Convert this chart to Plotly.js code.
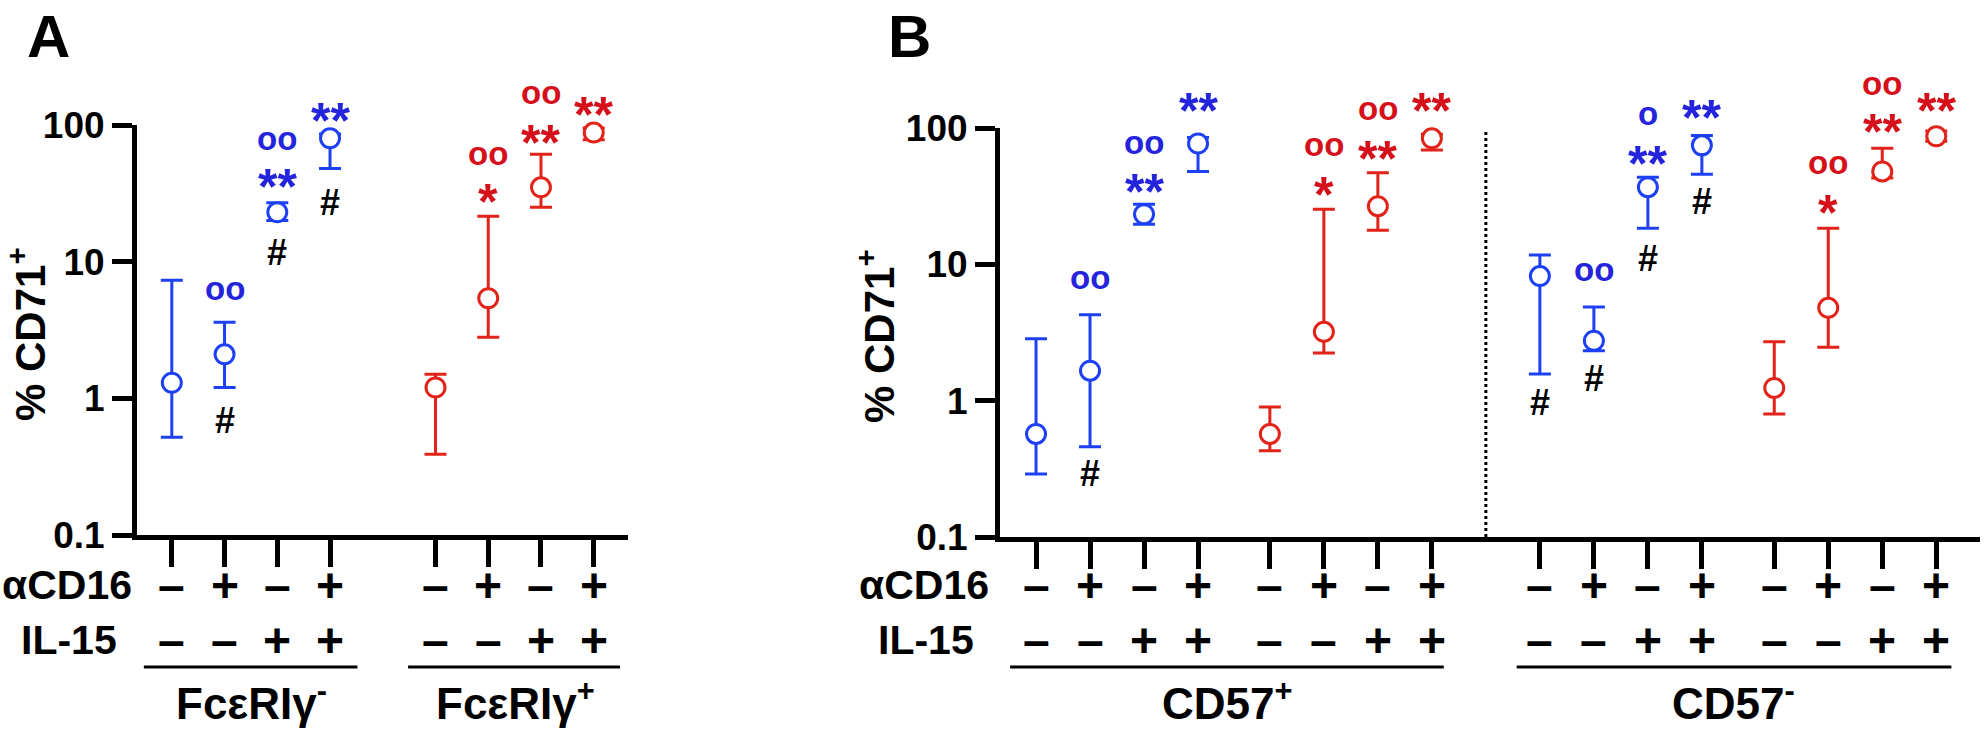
<!DOCTYPE html>
<html>
<head>
<meta charset="utf-8">
<script src="https://cdn.plot.ly/plotly-3.0.1.min.js"></script>
<style>
  html, body { margin: 0; padding: 0; background: #fff; }
  #chart { width: 1984px; height: 729px; }
</style>
</head>
<body>
<div id="chart"></div>
<script>
// panel A : FceRIg- / FceRIg+
var xA = [0, 1, 2, 3, 5, 6, 7, 8];
var meanA = [1.3, 2.1, 23, 80, 1.2, 5.4, 35, 88];
var upA = [7.3, 3.6, 27, 86, 1.5, 21.5, 61, 95];
var loA = [0.52, 1.2, 20, 48, 0.39, 2.8, 25, 78];
var colA = ['b', 'b', 'b', 'b', 'r', 'r', 'r', 'r'];
var cd16A = ['–', '+', '–', '+', '–', '+', '–', '+'];
var il15A = ['–', '–', '+', '+', '–', '–', '+', '+'];
var groupsA = ['FcεRIγ<sup>-</sup>', 'FcεRIγ<sup>+</sup>'];

// panel B : CD57+ / CD57-
var xB = [0, 1, 2, 3, 4.33, 5.33, 6.33, 7.33, 9.33, 10.33, 11.33, 12.33, 13.67, 14.67, 15.67, 16.67];
var meanB = [0.57, 1.66, 23.3, 77, 0.57, 3.2, 26.7, 84, 8.2, 2.75, 36.8, 74.6, 1.24, 4.8, 48, 87];
var upB = [2.84, 4.26, 27.6, 85, 0.90, 25.3, 47, 90, 11.7, 4.87, 43.6, 88, 2.7, 18.4, 71, 95];
var loB = [0.29, 0.46, 19.7, 48, 0.43, 2.24, 17.8, 69, 1.57, 2.32, 18.4, 45.8, 0.80, 2.46, 43, 80];
var colB = ['b', 'b', 'b', 'b', 'r', 'r', 'r', 'r', 'b', 'b', 'b', 'b', 'r', 'r', 'r', 'r'];
var cd16B = ['–', '+', '–', '+', '–', '+', '–', '+', '–', '+', '–', '+', '–', '+', '–', '+'];
var il15B = ['–', '–', '+', '+', '–', '–', '+', '+', '–', '–', '+', '+', '–', '–', '+', '+'];
var groupsB = ['CD57<sup>+</sup>', 'CD57<sup>-</sup>'];

// significance marks: point index, symbol, height (% CD71+)
var sigA_idx = [1, 1, 2, 2, 2, 3, 3, 5, 5, 6, 6, 7];
var sigA_txt = ['oo', '#', 'oo', '**', '#', '**', '#', 'oo', '*', 'oo', '**', '**'];
var sigA_val = [5.9, 0.69, 74, 44.5, 11.7, 135, 27.3, 58, 34.5, 163, 93.6, 150];

var sigB_idx = [1, 1, 2, 2, 3, 5, 5, 6, 6, 7, 8, 9, 9, 10, 10, 10, 11, 11, 13, 13, 14, 14, 15];
var sigB_txt = ['oo', '#', 'oo', '**', '**', 'oo', '*', 'oo', '**', '**', '#', 'oo', '#', 'o', '**', '#', '**', '#', 'oo', '*', 'oo', '**', '**'];
var sigB_val = [7.5, 0.29, 73, 42.8, 170, 71, 40.7, 130, 74.6, 170, 0.97, 8.6, 1.45, 120, 68.6, 11.1, 151, 29, 52, 30, 198, 118, 170];

var BLUE = '#1d40f5', BLUE_TXT = '#2424dc';
var RED = '#e2231a', RED_TXT = '#d6101a';
var FONT = 'Liberation Sans, Arial, Helvetica, sans-serif';
var W = 1984, H = 729;

function px(x) { return x / W; }
function py(y) { return 1 - y / H; }
function colour(c) { return c == 'b' ? BLUE : RED; }

var domYA = [py(535), py(125)];
var domYB = [py(537), py(128)];

var data = [];
var annotations = [];
var shapes = [];

function addPanel(xs, mean, up, lo, cols, xa, ya) {
  // one trace per colour block so error bars get their colour
  var start = 0;
  for (var i = 1; i <= xs.length; i++) {
    if (i == xs.length || cols[i] != cols[start]) {
      var c = colour(cols[start]);
      var xx = [], yy = [], ep = [], em = [];
      for (var j = start; j < i; j++) {
        xx.push(xs[j]); yy.push(mean[j]);
        ep.push(up[j] - mean[j]); em.push(mean[j] - lo[j]);
      }
      data.push({
        x: xx, y: yy, xaxis: xa, yaxis: ya,
        type: 'scatter', mode: 'markers',
        marker: { symbol: 'circle', size: 19, color: '#fff', line: { color: c, width: 3 } },
        error_y: { type: 'data', symmetric: false, array: ep, arrayminus: em,
                   color: c, thickness: 3, width: 11 },
        cliponaxis: false, hoverinfo: 'skip'
      });
      start = i;
    }
  }
}

// marks above 100 fall outside the axis range, so place them in paper units
function addSigs(xs, cols, idx, txt, val, xref, dom) {
  for (var k = 0; k < idx.length; k++) {
    var t = txt[k];
    var c = t == '#' ? '#000' : (cols[idx[k]] == 'b' ? BLUE_TXT : RED_TXT);
    var size = 36, shift = 0;
    if (t.charAt(0) == '*') { size = 50; shift = -14; }
    if (t.charAt(0) == 'o') { size = 33; shift = 4; }
    var yp = dom[0] + (Math.log10(val[k]) + 1) / 3 * (dom[1] - dom[0]);
    annotations.push({
      x: xs[idx[k]], y: yp, xref: xref, yref: 'paper',
      text: '<b>' + t + '</b>', showarrow: false, yshift: shift,
      xanchor: 'center', yanchor: 'middle',
      font: { family: FONT, size: size, color: c }
    });
  }
}

function addConditions(xs, cd16, il15, xref, yCd, yIl) {
  for (var k = 0; k < xs.length; k++) {
    annotations.push({ x: xs[k], y: py(yCd), xref: xref, yref: 'paper', text: '<b>' + cd16[k] + '</b>',
      showarrow: false, xanchor: 'center', yanchor: 'middle', font: { family: FONT, size: 48, color: '#000' } });
    annotations.push({ x: xs[k], y: py(yIl), xref: xref, yref: 'paper', text: '<b>' + il15[k] + '</b>',
      showarrow: false, xanchor: 'center', yanchor: 'middle', font: { family: FONT, size: 48, color: '#000' } });
  }
}

function label(text, x, y, size, anchor, angle) {
  annotations.push({ x: px(x), y: py(y), xref: 'paper', yref: 'paper', text: text,
    showarrow: false, xanchor: anchor || 'center', yanchor: 'middle', textangle: angle || 0,
    font: { family: FONT, size: size, color: '#000', weight: 700 } });
}

addPanel(xA, meanA, upA, loA, colA, 'x', 'y');
addPanel(xB, meanB, upB, loB, colB, 'x2', 'y2');
addSigs(xA, colA, sigA_idx, sigA_txt, sigA_val, 'x', domYA);
addSigs(xB, colB, sigB_idx, sigB_txt, sigB_val, 'x2', domYB);
addConditions(xA, cd16A, il15A, 'x', 585, 640);
addConditions(xB, cd16B, il15B, 'x2', 585, 640);

// row labels, titles, panel letters
label('αCD16', 134, 585, 41, 'right');
label('IL-15', 119, 640, 41, 'right');
label('αCD16', 991, 585, 41, 'right');
label('IL-15', 976, 640, 41, 'right');
label('% CD71<sup>+</sup>', 27, 334, 42, 'center', -90);
label('% CD71<sup>+</sup>', 876, 336, 42, 'center', -90);
label('A', 48, 37, 60);
label('B', 909, 36, 60);
label(groupsA[0], 251, 700, 44);
label(groupsA[1], 515, 700, 44);
label(groupsB[0], 1227, 700, 44);
label(groupsB[1], 1733, 700, 44);

// group underlines
var lineA = [[-0.53, 3.52], [4.48, 8.5]];
var lineB = [[-0.48, 7.55], [8.9, 16.95]];
lineA.forEach(function (s) {
  shapes.push({ type: 'line', xref: 'x', yref: 'paper', x0: s[0], x1: s[1], y0: py(667), y1: py(667),
    line: { color: '#000', width: 3 } });
});
lineB.forEach(function (s) {
  shapes.push({ type: 'line', xref: 'x2', yref: 'paper', x0: s[0], x1: s[1], y0: py(667), y1: py(667),
    line: { color: '#000', width: 3 } });
});
// dotted divider between CD57+ and CD57-
shapes.push({ type: 'line', xref: 'x2', yref: 'y2 domain', x0: 8.33, x1: 8.33, y0: 0, y1: 0.99,
  line: { color: '#000', width: 3, dash: 'dot' } });

function yax(dom, anchor) {
  return {
    type: 'log', range: [-1, 2], domain: dom, anchor: anchor,
    tickmode: 'array', tickvals: [0.1, 1, 10, 100], ticktext: ['0.1', '1', '10', '100'],
    ticks: 'outside', ticklen: 20, tickwidth: 5, tickcolor: '#000',
    showline: true, linewidth: 5, linecolor: '#000',
    showgrid: false, zeroline: false,
    tickfont: { family: FONT, size: 37, color: '#000', weight: 700 }
  };
}
function xax(dom, rng, vals, anchor) {
  return {
    domain: dom, range: rng, anchor: anchor,
    tickmode: 'array', tickvals: vals, showticklabels: false,
    ticks: 'outside', ticklen: 27, tickwidth: 5, tickcolor: '#000',
    showline: true, linewidth: 5, linecolor: '#000',
    showgrid: false, zeroline: false
  };
}

var layout = {
  width: W, height: H,
  margin: { l: 0, r: 0, t: 0, b: 0 },
  paper_bgcolor: '#fff', plot_bgcolor: '#fff',
  showlegend: false,
  xaxis: xax([px(137), px(628)], [-0.66, 8.65], xA, 'y'),
  yaxis: yax(domYA, 'x'),
  xaxis2: xax([px(1000), px(1980)], [-0.667, 17.48], xB, 'y2'),
  yaxis2: yax(domYB, 'x2'),
  annotations: annotations,
  shapes: shapes
};

Plotly.newPlot('chart', data, layout, { displayModeBar: false, staticPlot: true });
</script>
</body>
</html>
